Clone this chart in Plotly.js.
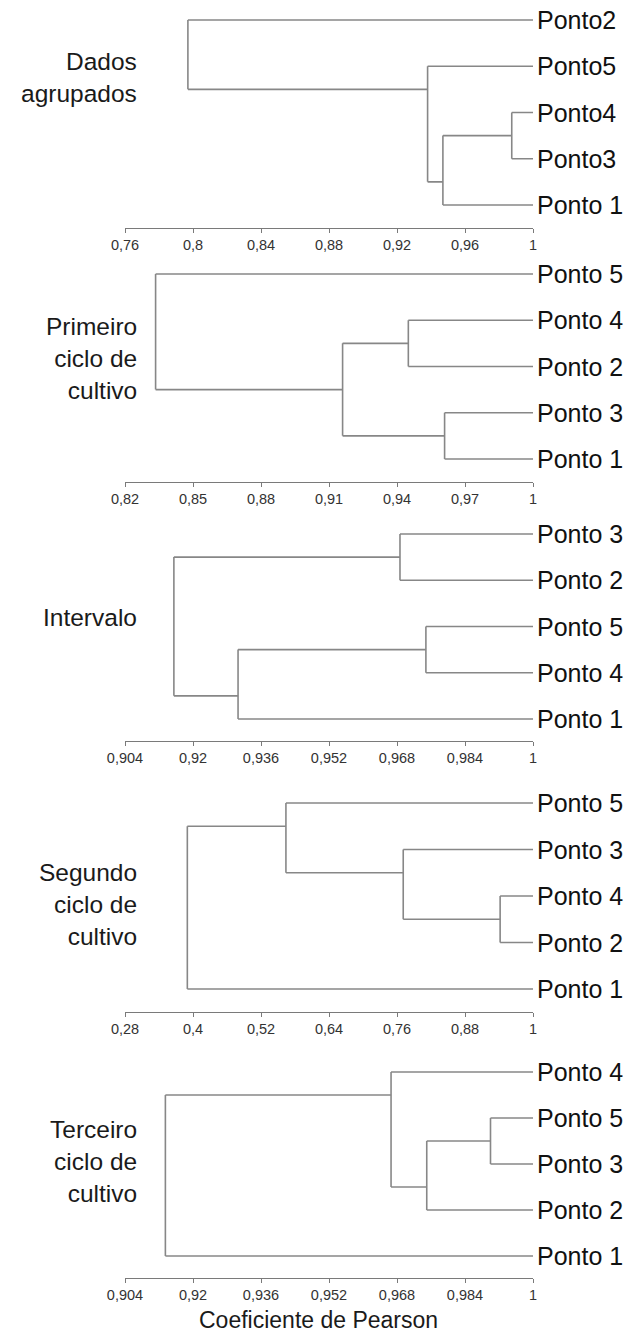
<!DOCTYPE html>
<html>
<head>
<meta charset="utf-8">
<script src="https://cdn.plot.ly/plotly-3.0.1.min.js"></script>
<style>html,body{margin:0;padding:0;background:#fff;}#chart{width:640px;height:1337px;}</style>
</head>
<body>
<div id="chart"></div>
<script>
// ---------- DATA ----------
const groupLabels = ["Dados<br>agrupados", "Primeiro<br>ciclo de<br>cultivo", "Intervalo", "Segundo<br>ciclo de<br>cultivo", "Terceiro<br>ciclo de<br>cultivo"];

const leaves1 = ["Ponto2", "Ponto5", "Ponto4", "Ponto3", "Ponto 1"];
const leaves2 = ["Ponto 5", "Ponto 4", "Ponto 2", "Ponto 3", "Ponto 1"];
const leaves3 = ["Ponto 3", "Ponto 2", "Ponto 5", "Ponto 4", "Ponto 1"];
const leaves4 = ["Ponto 5", "Ponto 3", "Ponto 4", "Ponto 2", "Ponto 1"];
const leaves5 = ["Ponto 4", "Ponto 5", "Ponto 3", "Ponto 2", "Ponto 1"];

// merges: [child A, child B, Pearson coefficient]; children 0-4 = leaves, 5+k = k-th merge
const merges1 = [[2, 3, 0.9875], [5, 4, 0.947], [1, 6, 0.938], [0, 7, 0.797]];
const merges2 = [[1, 2, 0.945], [3, 4, 0.961], [5, 6, 0.916], [0, 7, 0.8335]];
const merges3 = [[0, 1, 0.9687], [2, 3, 0.9748], [6, 4, 0.9306], [5, 7, 0.9155]];
const merges4 = [[2, 3, 0.942], [1, 5, 0.771], [0, 6, 0.564], [7, 4, 0.390]];
const merges5 = [[1, 2, 0.990], [5, 3, 0.975], [0, 6, 0.9666], [7, 4, 0.9135]];

const ticks1 = [0.76, 0.8, 0.84, 0.88, 0.92, 0.96, 1];
const ticks2 = [0.82, 0.85, 0.88, 0.91, 0.94, 0.97, 1];
const ticks3 = [0.904, 0.92, 0.936, 0.952, 0.968, 0.984, 1];
const ticks4 = [0.28, 0.4, 0.52, 0.64, 0.76, 0.88, 1];
const ticks5 = [0.904, 0.92, 0.936, 0.952, 0.968, 0.984, 1];

const xTitle = "Coeficiente de Pearson";

// ---------- LAYOUT (pixels) ----------
const W = 640, H = 1337;
const plotLeft = 125, plotRight = 533;
const panelsPx = [
  {top: 20,   bottom: 205,  axis: 228,  label: 78},
  {top: 274,  bottom: 459,  axis: 482,  label: 358},
  {top: 534,  bottom: 719,  axis: 741,  label: 617},
  {top: 803,  bottom: 989,  axis: 1012, label: 905},
  {top: 1072, bottom: 1256, axis: 1278, label: 1161}
];
const lineColor = "#878787";
const FONT = "Liberation Sans, Arial, sans-serif";

const panels = [
  [leaves1, merges1, ticks1],
  [leaves2, merges2, ticks2],
  [leaves3, merges3, ticks3],
  [leaves4, merges4, ticks4],
  [leaves5, merges5, ticks5]
];

const traces = [];
const layout = {
  width: W, height: H, autosize: false,
  margin: {l: 0, r: 0, t: 0, b: 0, pad: 0},
  paper_bgcolor: "#fff", plot_bgcolor: "#fff",
  showlegend: false,
  font: {family: FONT, color: "#1a1a1a"},
  annotations: []
};

panels.forEach(([leaves, merges, ticks], p) => {
  const k = p + 1;
  const xa = k === 1 ? "x" : "x" + k;
  const ya = k === 1 ? "y" : "y" + k;
  const n = leaves.length;
  const nodes = leaves.map((_, i) => ({lo: i, hi: i, y: i, x: 1}));
  const xs = [], ys = [];
  merges.forEach(([a, b, h]) => {
    const A = nodes[a], B = nodes[b];
    const up = A.lo < B.lo ? A : B;
    const dn = up === A ? B : A;
    xs.push(up.x, h, null, dn.x, h, null, h, h, null);
    ys.push(up.y, up.y, null, dn.y, dn.y, null, up.y, dn.y, null);
    nodes.push({lo: up.lo, hi: dn.hi, y: (up.hi + dn.lo) / 2, x: h});
  });
  traces.push({
    x: xs, y: ys, xaxis: xa, yaxis: ya, type: "scatter", mode: "lines",
    line: {color: lineColor, width: 1.6}, hoverinfo: "skip", cliponaxis: false
  });

  const px = panelsPx[p];
  const s = (px.bottom - px.top) / (n - 1);
  const bottomVal = (n - 1) + (px.axis - px.bottom) / s;
  const topVal = -0.4;
  const topPx = px.top + topVal * s;
  layout[k === 1 ? "xaxis" : "xaxis" + k] = {
    domain: [plotLeft / W, plotRight / W],
    range: [ticks[0], 1],
    anchor: ya,
    tickmode: "array",
    tickvals: ticks,
    ticktext: ticks.map(v => String(v).replace(".", ",")),
    ticks: "outside", ticklen: 4, tickwidth: 1, tickcolor: "#7a7a7a",
    showline: true, linecolor: "#7a7a7a", linewidth: 1,
    showgrid: false, zeroline: false, fixedrange: true,
    tickfont: {family: FONT, size: 14.5, color: "#333"}
  };
  layout[k === 1 ? "yaxis" : "yaxis" + k] = {
    domain: [1 - px.axis / H, 1 - topPx / H],
    range: [bottomVal, topVal],
    anchor: xa,
    visible: false, showgrid: false, zeroline: false, fixedrange: true
  };
  leaves.forEach((lab, i) => {
    layout.annotations.push({
      xref: xa, yref: ya, x: 1, y: i, text: lab, showarrow: false,
      xanchor: "left", yanchor: "middle", xshift: 2,
      font: {family: FONT, size: 25, color: "#111"}
    });
  });
  layout.annotations.push({
    xref: "paper", yref: "paper", x: 139 / W, y: 1 - px.label / H,
    text: groupLabels[p], showarrow: false, xanchor: "right", yanchor: "middle",
    align: "right", font: {family: FONT, size: 24.5, color: "#1a1a1a"}
  });
});

layout.annotations.push({
  xref: "paper", yref: "paper", x: 318 / W, y: 1 - 1335 / H,
  text: xTitle, showarrow: false, xanchor: "center", yanchor: "bottom",
  font: {family: FONT, size: 23, color: "#1a1a1a"}
});

Plotly.newPlot("chart", traces, layout, {displayModeBar: false, staticPlot: true});
</script>
</body>
</html>
